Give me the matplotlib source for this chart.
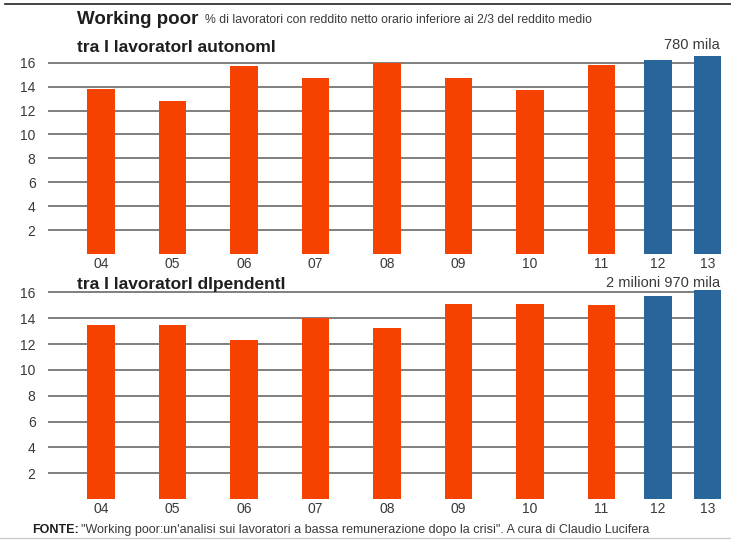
import matplotlib
import numpy as np

matplotlib.use("Agg")
import matplotlib.pyplot as plt
from matplotlib.lines import Line2D
from matplotlib.text import Annotation

plt.rcParams["font.family"] = ["Liberation Sans", "DejaVu Sans"]

YEARS = ["04", "05", "06", "07", "08", "09", "10", "11", "12", "13"]
AUTONOMI = [13.8, 12.8, 15.7, 14.7, 16.0, 14.7, 13.7, 15.8, 16.2, 16.6]
DIPENDENTI = [13.5, 13.5, 12.3, 14.0, 13.2, 15.1, 15.1, 15.0, 15.7, 16.2]
ESTIMATE = [False] * 8 + [True] * 2
Y_TICKS = [2, 4, 6, 8, 10, 12, 14, 16]

ORANGE = "#f64200"
BLUE = "#28659a"
GRID = "#6a6a6a"
TEXT = "#3a3a3a"
DARK = "#1e1e1e"

# last two bars sit closer together than the others
xpos = np.array([0, 1, 2, 3, 4, 5, 6, 7, 7.79, 8.48])
colors = [BLUE if e else ORANGE for e in ESTIMATE]


def draw_panel(ax, values, ymax):
    ax.bar(xpos, values, width=0.385, color=colors, zorder=3)
    for y in Y_TICKS:
        ax.axhline(y, color=GRID, lw=1.2, zorder=1)
    ax.set_xlim(-0.741, 8.671)
    ax.set_ylim(0, ymax)
    ax.set_yticks(Y_TICKS)
    ax.set_xticks(xpos)
    ax.set_xticklabels(YEARS)
    ax.tick_params(length=0, labelsize=10, colors=TEXT)
    ax.tick_params(axis="y", pad=9)
    ax.tick_params(axis="x", pad=2)
    for spine in ax.spines.values():
        spine.set_visible(False)
    ax.set_facecolor("none")


def text_after(fig, anchor, s, gap, **kw):
    # place a text right after another one, on the same line
    ann = Annotation(s, xy=(1, 0.5), xycoords=anchor, xytext=(gap, 0),
                     textcoords="offset points", va="center", **kw)
    fig.add_artist(ann)
    return ann


fig = plt.figure(figsize=(7.31, 5.41), dpi=100)

ax_top = fig.add_axes([0.0657, 0.5305, 0.9207, 0.3691])
draw_panel(ax_top, AUTONOMI, 16.7)

ax_bot = fig.add_axes([0.0657, 0.0773, 0.9207, 0.3896])
draw_panel(ax_bot, DIPENDENTI, 16.3)

# frame lines at top and bottom of the page
fig.add_artist(Line2D([5 / 731, 1], [1 - 4 / 541] * 2, color="#222222", lw=1.2))
fig.add_artist(Line2D([0, 1], [1 - 538 / 541] * 2, color="#cccccc", lw=1.0))

title = fig.text(77 / 731, 1 - 20 / 541, "Working poor", fontsize=13.5,
                 weight="bold", color=DARK, va="center")
text_after(fig, title,
           "% di lavoratori con reddito netto orario inferiore ai 2/3 del reddito medio",
           5, fontsize=8.8, color=TEXT)
fig.text(77 / 731, 1 - 47 / 541, "tra I lavoratorI autonomI", fontsize=12.5,
         weight="bold", color=DARK, va="center")
fig.text(720 / 731, 1 - 45 / 541, "780 mila", fontsize=10.5, color=TEXT,
         ha="right", va="center")
fig.text(77 / 731, 1 - 284 / 541, "tra I lavoratorI dIpendentI", fontsize=12.5,
         weight="bold", color=DARK, va="center")
fig.text(720 / 731, 1 - 283 / 541, "2 milioni 970 mila", fontsize=10.5,
         color=TEXT, ha="right", va="center")

fonte = fig.text(32 / 731, 1 - 530 / 541, "FONTE:", fontsize=9,
                 weight="bold", color=DARK, va="center")
text_after(fig, fonte,
           "\"Working poor:un'analisi sui lavoratori a bassa remunerazione dopo la crisi\". A cura di Claudio Lucifera",
           1.5, fontsize=9, color=TEXT)

fig.savefig("out.png", dpi=100)
plt.close(fig)
